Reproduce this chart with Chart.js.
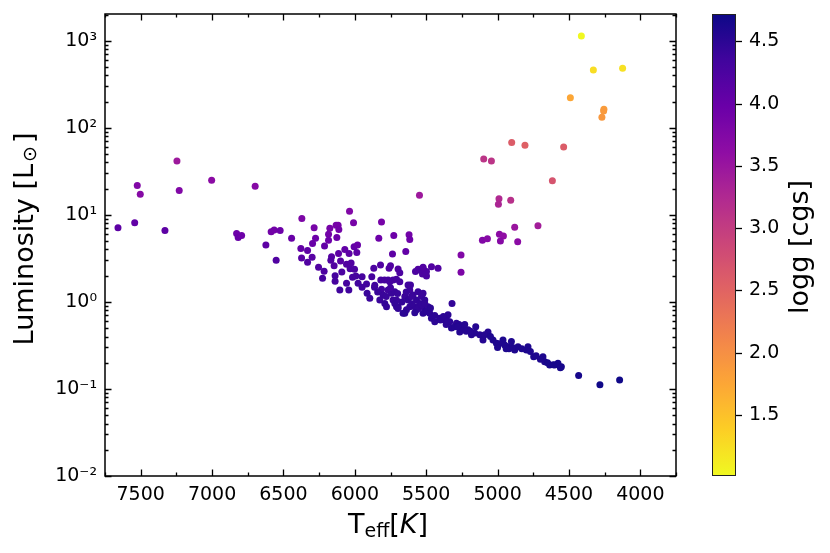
<!DOCTYPE html>
<html>
<head>
<meta charset="utf-8">
<script src="https://cdn.jsdelivr.net/npm/chart.js@4.4.1/dist/chart.umd.min.js"></script>
<style>
  html, body { margin: 0; padding: 0; background: #fff; }
</style>
</head>
<body>
<canvas id="hrChart" width="830" height="553"></canvas>
<script>
// effective temperature [K], luminosity [Lsun], surface gravity logg [cgs]
var teff = [
  4413, 4329, 4124, 4490, 4255, 4257, 4269, 4901, 4808, 4537,
  5097, 5043, 4616, 4990, 4994, 4908, 4880, 4717, 4987, 4959,
  4980, 4859, 5106, 5071, 5256, 5256, 5547,
  7659, 7542, 7524, 7503, 7330, 7246, 7230, 7003, 6828, 6817,
  6793, 6698, 6623, 6586, 6565, 6523, 6551, 6443,
  6371, 6378, 6373, 6331, 6331, 6299, 6285, 6296, 6275, 6254,
  6226, 6215, 6212, 6184, 6184, 6175, 6163, 6168, 6145, 6131,
  6117, 6112, 6126, 6138, 6138, 6114, 6100, 6105, 6091, 6070,
  6058, 6058, 6037, 6040, 6042, 6033, 6026, 6016, 6009, 6005,
  6002, 5993, 5981, 5986, 5977, 5949, 5949, 5918, 5914, 5895,
  5881, 5867, 5862, 5832, 5813, 5820, 5818, 5813, 5802, 5825,
  5790, 5792, 5767, 5755, 5732, 5708, 5685, 5760, 5750, 5736,
  5727, 5767, 5743, 5720, 5732, 5697, 5708, 5697, 5685, 5643,
  5620, 5615, 5627, 5650, 5627, 5638, 5615, 5650, 5615, 5592,
  5568, 5545, 5522, 5498, 5575, 5557, 5522, 5498, 5498, 5526,
  5557, 5533, 5510, 5487, 5778, 5708, 5662, 5568, 5522,
  5545, 5522, 5463, 5417, 5610, 5522,
  5720, 5697, 5603, 5580, 5557, 5533, 5510, 5498, 5475, 5463,
  5440, 5405, 5370, 5347, 5335, 5323, 5319, 5288, 5265, 5242,
  5207, 5183, 5153, 5125, 5102, 5067, 5032, 5008, 4962, 4927,
  4903, 4880, 4857, 4798, 4787, 4747, 4682, 4670, 4635, 4600,
  4577, 4553, 4432, 4283, 4145,
  5400, 5360, 5300, 5270, 5220, 5160, 5090, 5050, 4990, 4950,
  4920, 4895, 4830, 4770, 4730, 4700, 4650, 4610, 4560, 5000, 4940,
  5860, 5840, 5780, 5750, 5700, 5670, 5640, 5600, 5580, 5470,
  5440, 5380, 5350, 5280, 5230, 5190
];
var lum = [
  1133, 461, 482, 222, 163, 156, 132, 68, 63, 60,
  43.8, 41.5, 24.7, 15.3, 13.2, 14.7, 7.2, 7.5, 6.0, 5.7,
  5.0, 4.9, 5.1, 5.3, 3.46, 2.19, 16.8,
  7.1, 8.1, 21.8, 17.3, 6.6, 41.5, 19.1, 24.9, 6.1, 5.5,
  5.8, 21.3, 4.5, 6.4, 6.7, 6.6, 3.0, 5.4,
  9.1, 4.1, 3.2, 3.9, 2.85, 3.25, 7.1, 4.7, 5.4, 2.5,
  1.87, 2.25, 4.4, 5.97, 5.1, 7.0, 3.3, 3.0, 2.6, 7.6,
  7.6, 6.8, 5.5, 2.0, 1.73, 3.6, 2.95, 1.37, 2.2, 4.0,
  2.7, 1.64, 11.0, 3.6, 1.37, 2.4, 2.8, 1.92, 8.1, 4.3,
  2.37, 1.98, 4.5, 3.7, 1.64, 1.95, 1.47, 1.61, 1.26, 1.10,
  1.95, 2.43, 1.47, 5.4, 8.3, 2.65, 1.79, 1.40, 1.20, 1.05,
  0.96, 1.79, 1.79, 1.71, 1.79, 1.82, 1.71, 2.43, 2.6, 3.55,
  5.8, 1.37, 1.26, 1.31, 1.05, 0.88, 1.05, 2.39, 2.16, 3.8,
  5.9, 5.2, 1.56, 1.15, 1.05, 0.81, 0.88, 0.74, 1.37, 1.20,
  1.05, 0.96, 0.88, 0.81, 2.24, 2.37, 2.43, 2.24, 1.98, 2.09,
  1.31, 1.15, 1.05, 0.88, 0.88, 0.88, 0.74, 0.81, 0.74,
  2.32, 2.5, 2.54, 2.43, 1.56, 1.26,
  0.96, 0.84, 1.15, 0.88, 0.84, 0.92, 0.96, 0.77, 0.74, 0.65,
  0.59, 0.65, 0.62, 0.71, 0.59, 0.50, 0.96, 0.57, 0.45, 0.50,
  0.48, 0.42, 0.52, 0.42, 0.365, 0.45, 0.365, 0.334, 0.365, 0.305,
  0.35, 0.28, 0.305, 0.28, 0.305, 0.235, 0.235, 0.206, 0.188, 0.188,
  0.197, 0.18, 0.143, 0.112, 0.127,
  0.62, 0.55, 0.52, 0.55, 0.46, 0.44, 0.42, 0.40, 0.33, 0.32,
  0.29, 0.30, 0.29, 0.27, 0.24, 0.22, 0.20, 0.19, 0.175, 0.30, 0.29,
  1.55, 1.30, 1.15, 1.45, 1.25, 1.00, 1.30, 0.95, 0.75, 0.85,
  0.70, 0.68, 0.60, 0.52, 0.55, 0.46
];
var logg = [
  1.02, 1.25, 1.22, 1.75, 1.85, 1.88, 1.9, 2.6, 2.55, 2.6,
  3.1, 3.1, 2.7, 3.25, 3.3, 3.15, 3.5, 3.4, 3.65, 3.6,
  3.7, 3.65, 3.75, 3.7, 3.75, 3.8, 3.45,
  4.1, 4.05, 3.75, 3.7, 4.1, 3.45, 3.75, 3.65, 3.95, 4.0,
  3.95, 3.7, 4.1, 3.9, 3.9, 3.95, 4.2, 4.0,
  3.8, 4.05, 4.15, 4.1, 4.2, 4.15, 3.85, 4.0, 3.95, 4.2,
  4.3, 4.25, 4.05, 3.9, 3.95, 3.85, 4.15, 4.2, 4.2, 3.85,
  3.85, 3.9, 3.95, 4.3, 4.3, 4.1, 4.15, 4.35, 4.25, 4.05,
  4.2, 4.3, 3.75, 4.1, 4.35, 4.25, 4.2, 4.3, 3.85, 4.05,
  4.25, 4.3, 4.0, 4.1, 4.35, 4.3, 4.35, 4.35, 4.4, 4.4,
  4.3, 4.25, 4.35, 3.95, 3.85, 4.2, 4.3, 4.35, 4.4, 4.4,
  4.45, 4.3, 4.3, 4.3, 4.3, 4.3, 4.3, 4.2, 4.2, 4.1,
  3.95, 4.35, 4.4, 4.4, 4.4, 4.45, 4.4, 4.2, 4.25, 4.05,
  3.9, 3.95, 4.35, 4.4, 4.45, 4.45, 4.45, 4.5, 4.35, 4.4,
  4.45, 4.45, 4.45, 4.5, 4.25, 4.2, 4.2, 4.25, 4.25, 4.25,
  4.4, 4.4, 4.45, 4.45, 4.45, 4.45, 4.5, 4.5, 4.5,
  4.25, 4.2, 4.2, 4.2, 4.35, 4.4,
  4.45, 4.45, 4.4, 4.45, 4.45, 4.45, 4.45, 4.5, 4.5, 4.5,
  4.5, 4.5, 4.5, 4.5, 4.5, 4.55, 4.45, 4.5, 4.55, 4.55,
  4.55, 4.55, 4.55, 4.55, 4.55, 4.55, 4.6, 4.6, 4.6, 4.6,
  4.6, 4.6, 4.6, 4.6, 4.6, 4.6, 4.6, 4.6, 4.65, 4.65,
  4.65, 4.65, 4.65, 4.7, 4.7,
  4.5, 4.5, 4.55, 4.55, 4.55, 4.55, 4.55, 4.6, 4.6, 4.6,
  4.6, 4.6, 4.6, 4.6, 4.6, 4.6, 4.65, 4.65, 4.65, 4.6, 4.6,
  4.35, 4.4, 4.4, 4.35, 4.4, 4.45, 4.4, 4.45, 4.5, 4.5,
  4.5, 4.5, 4.5, 4.55, 4.55, 4.55
];

var xTicks = [4000, 4500, 5000, 5500, 6000, 6500, 7000, 7500];
var yTicks = [0.01, 0.1, 1, 10, 100, 1000];
var yTickLabels = ["10\u207B\u00B2", "10\u207B\u00B9", "10\u2070", "10\u00B9", "10\u00B2", "10\u00B3"];
var cbTicks = [1.5, 2.0, 2.5, 3.0, 3.5, 4.0, 4.5];
var loggMin = 1.01, loggMax = 4.72;

// plasma colormap stops
var plasma = ["#0d0887", "#41049d", "#6a00a8", "#8f0da4", "#b12a90", "#cc4778",
              "#e16462", "#f2844b", "#fca636", "#fcce25", "#f0f921"];

function hexRgb(h) {
  return [parseInt(h.substr(1, 2), 16), parseInt(h.substr(3, 2), 16), parseInt(h.substr(5, 2), 16)];
}
function plasmaColor(t) {
  t = Math.max(0, Math.min(1, t));
  var f = t * (plasma.length - 1);
  var i = Math.min(Math.floor(f), plasma.length - 2);
  var a = hexRgb(plasma[i]), b = hexRgb(plasma[i + 1]), k = f - i;
  return "rgb(" + Math.round(a[0] + (b[0] - a[0]) * k) + "," +
         Math.round(a[1] + (b[1] - a[1]) * k) + "," +
         Math.round(a[2] + (b[2] - a[2]) * k) + ")";
}
// high logg = dark end of the bar
function loggColor(g) {
  return plasmaColor((loggMax - g) / (loggMax - loggMin));
}

var points = teff.map(function (t, i) { return {x: t, y: lum[i]}; });
var colors = logg.map(loggColor);

var FONT = "'DejaVu Sans', 'Liberation Sans', sans-serif";

// no automatic label padding, the axes are placed by hand
function fixPadding(s) {
  s.paddingTop = 0; s.paddingBottom = 0; s.paddingLeft = 0; s.paddingRight = 0;
}

// inward ticks on all four sides, frame, colorbar and axis titles
var decorations = {
  id: 'decorations',
  afterDraw: function (chart) {
    var c = chart.ctx, a = chart.chartArea;
    var xs = chart.scales.x, ys = chart.scales.y, cb = chart.scales.cb;
    c.save();
    c.strokeStyle = '#000';
    c.lineWidth = 1.3;

    function hTick(px, len) {
      c.beginPath();
      c.moveTo(px, a.bottom); c.lineTo(px, a.bottom - len);
      c.moveTo(px, a.top); c.lineTo(px, a.top + len);
      c.stroke();
    }
    function vTick(py, len) {
      c.beginPath();
      c.moveTo(a.left, py); c.lineTo(a.left + len, py);
      c.moveTo(a.right, py); c.lineTo(a.right - len, py);
      c.stroke();
    }
    for (var v = 3750; v <= 7750; v += 250) {
      hTick(Math.round(xs.getPixelForValue(v)) + 0.5, v % 500 === 0 ? 6.5 : 3.5);
    }
    for (var d = 0; d < yTicks.length; d++) {
      for (var m = 1; m <= 9; m++) {
        var val = yTicks[d] * m;
        if (val > ys.max) break;
        vTick(Math.round(ys.getPixelForValue(val)) + 0.5, m === 1 ? 6.5 : 3.5);
      }
    }
    c.lineWidth = 1.5;
    c.strokeRect(a.left, a.top, a.right - a.left, a.bottom - a.top);

    // colorbar
    var bx = 712, bw = 24, top = cb.top, bot = cb.bottom;
    var grad = c.createLinearGradient(0, top, 0, bot);
    for (var s = 0; s <= 40; s++) {
      grad.addColorStop(s / 40, plasmaColor(s / 40));
    }
    c.fillStyle = grad;
    c.fillRect(bx, top, bw, bot - top);
    c.lineWidth = 1;
    c.strokeStyle = '#222';
    c.strokeRect(bx + 0.5, top + 0.5, bw - 1, bot - top - 1);
    c.strokeStyle = '#000';
    c.lineWidth = 1.3;
    c.fillStyle = '#000';
    c.font = '19px ' + FONT;
    c.textAlign = 'left';
    c.textBaseline = 'middle';
    cbTicks.forEach(function (g) {
      var py = Math.round(cb.getPixelForValue(g)) + 0.5;
      c.beginPath(); c.moveTo(bx + bw, py); c.lineTo(bx + bw + 6, py); c.stroke();
      c.fillText(g.toFixed(1), 749, py);
    });

    c.textAlign = 'center';

    // colorbar label
    c.save();
    c.translate(801, 247);
    c.rotate(-Math.PI / 2);
    c.font = '27px ' + FONT;
    c.fillText('logg [cgs]', 0, 0);
    c.restore();

    // y label: Luminosity [L_sun]
    c.save();
    c.translate(26, 239);
    c.rotate(-Math.PI / 2);
    c.textBaseline = 'middle';
    c.textAlign = 'left';
    var big = '27px ' + FONT, small = '19px ' + FONT;
    c.font = big;
    var p1 = 'Luminosity [L', p3 = ']';
    var w1 = c.measureText(p1).width, w3 = c.measureText(p3).width;
    c.font = small;
    var w2 = c.measureText('\u2299').width + 5;
    var x0 = -(w1 + w2 + w3) / 2;
    c.font = big;
    c.fillText(p1, x0, 0);
    c.font = small;
    c.fillText('\u2299', x0 + w1 + 2, 5);
    c.font = big;
    c.fillText(p3, x0 + w1 + w2, 0);
    c.restore();

    // x label: T_eff[K]
    c.textBaseline = 'alphabetic';
    c.textAlign = 'left';
    var bigX = '27px ' + FONT, smallX = '19px ' + FONT;
    c.font = bigX;
    var wT = c.measureText('T').width;
    c.font = smallX;
    var wE = c.measureText('eff').width;
    c.font = bigX;
    var wO = c.measureText('[').width;
    c.font = 'italic ' + bigX;
    var wK = c.measureText('K').width;
    c.font = bigX;
    var wC = c.measureText(']').width;
    var xx = 388 - (wT + wE + wO + wK + wC) / 2, base = 533;
    c.fillText('T', xx, base); xx += wT;
    c.font = smallX;
    c.fillText('eff', xx, base + 4); xx += wE;
    c.font = bigX;
    c.fillText('[', xx, base); xx += wO;
    c.font = 'italic ' + bigX;
    c.fillText('K', xx, base); xx += wK;
    c.font = bigX;
    c.fillText(']', xx, base);
    c.restore();
  }
};

var ctx = document.getElementById("hrChart");
var hrChart = new Chart(ctx, {
  type: 'scatter',
  data: {
    datasets: [{
      label: 'stars',
      data: points,
      pointRadius: 3.5,
      pointHoverRadius: 3.5,
      pointBorderWidth: 0,
      pointBackgroundColor: colors,
      pointBorderColor: colors
    }]
  },
  options: {
    responsive: false,
    animation: false,
    events: [],
    layout: { padding: { top: 14, left: 0, right: 154, bottom: 0 } },
    plugins: { legend: { display: false }, tooltip: { enabled: false } },
    scales: {
      x: {
        type: 'linear',
        reverse: true,
        min: 3750,
        max: 7750,
        afterBuildTicks: function (s) { s.ticks = xTicks.map(function (v) { return {value: v}; }); },
        afterFit: function (s) { s.height = 77; fixPadding(s); },
        grid: { display: false, drawTicks: false },
        border: { display: false },
        ticks: {
          color: '#000', padding: 8, maxRotation: 0, autoSkip: false,
          font: { family: FONT, size: 19 },
          callback: function (v) { return String(v); }
        }
      },
      y: {
        type: 'logarithmic',
        min: 0.01,
        max: 2030,
        afterBuildTicks: function (s) { s.ticks = yTicks.map(function (v) { return {value: v}; }); },
        afterFit: function (s) { s.width = 105; fixPadding(s); },
        grid: { display: false, drawTicks: false },
        border: { display: false },
        ticks: {
          color: '#000', padding: 8, autoSkip: false,
          font: { family: FONT, size: 19 },
          callback: function (v, i) { return yTickLabels[i]; }
        }
      },
      cb: {
        type: 'linear',
        axis: 'y',
        position: 'right',
        display: false,
        min: loggMin,
        max: loggMax
      }
    }
  },
  plugins: [decorations]
});
</script>
</body>
</html>
